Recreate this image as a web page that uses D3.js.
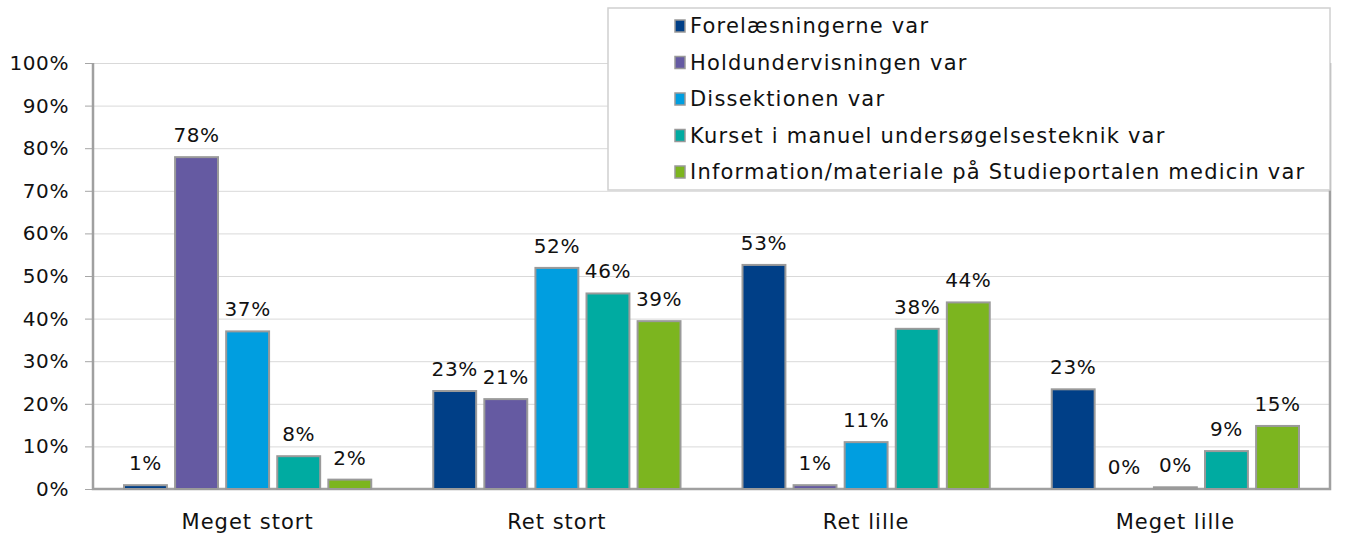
<!DOCTYPE html>
<html>
<head>
    <script src="https://d3js.org/d3.v7.min.js"></script>
    <style>
        body { margin: 0; background: #fff; }
        text { font-family: "Century Gothic", "DejaVu Sans", sans-serif; fill: #111; letter-spacing: 0.6px; }
        .grid line { stroke: #d9d9d9; stroke-width: 1; }
        .grid path { display: none; }
    </style>
</head>
<body>
    <svg width="1365" height="535"></svg>
    <script>

        // Chart data
        const categories = ["Meget stort", "Ret stort", "Ret lille", "Meget lille"];
        const seriesNames = [
            "Forelæsningerne var",
            "Holdundervisningen var",
            "Dissektionen var",
            "Kurset i manuel undersøgelsesteknik var",
            "Information/materiale på Studieportalen medicin var"
        ];
        const forelaesninger = [0.9, 23.0, 52.6, 23.4];
        const holdundervisning = [77.9, 21.1, 0.9, 0.0];
        const dissektion = [37.0, 51.9, 11.0, 0.4];
        const kursus = [7.7, 45.9, 37.6, 8.9];
        const information = [2.2, 39.4, 43.8, 14.8];
        const yTicks = [0, 10, 20, 30, 40, 50, 60, 70, 80, 90, 100];

        const seriesValues = [forelaesninger, holdundervisning, dissektion, kursus, information];
        const colors = ["#003f87", "#655aa2", "#009ee0", "#00aba1", "#7cb51f"];

        const svg = d3.select("svg"),
            margin = { top: 63, right: 35, bottom: 46, left: 93 },
            width = +svg.attr("width") - margin.left - margin.right,
            height = +svg.attr("height") - margin.top - margin.bottom,
            g = svg.append("g").attr("transform", "translate(" + margin.left + "," + margin.top + ")");

        const x0 = d3.scaleBand().domain(categories).range([0, width]);
        const x1 = d3.scaleBand().domain(d3.range(seriesNames.length))
            .range([31, x0.bandwidth() - 31]).paddingInner(0.16);
        const y = d3.scaleLinear().domain([0, 100]).range([height, 0]);

        // grid lines
        g.append("g")
            .attr("class", "grid")
            .call(d3.axisLeft(y).tickValues(yTicks).tickSize(-width).tickFormat(""));

        // y axis
        const yAxis = g.append("g")
            .call(d3.axisLeft(y).tickValues(yTicks).tickSize(8).tickPadding(16).tickFormat(d => d + "%"));
        yAxis.select(".domain").remove();
        yAxis.selectAll("line").attr("stroke", "#a6a6a6");
        yAxis.selectAll("text")
            .style("font-size", "20px")
            .style("font-family", "\"Century Gothic\", \"DejaVu Sans\", sans-serif");

        // plot frame
        g.append("path")
            .attr("d", "M0,0V" + height + "H" + width + "V0")
            .attr("fill", "none")
            .attr("stroke", "#a0a0a0")
            .attr("stroke-width", 2.5);

        // bars
        const groups = g.selectAll(".cat")
            .data(categories)
            .join("g")
            .attr("transform", d => "translate(" + x0(d) + ",0)");

        groups.each(function(cat, ci) {
            const grp = d3.select(this);
            seriesValues.forEach(function(vals, si) {
                const v = vals[ci];
                if (v > 0) {
                    grp.append("rect")
                        .attr("x", x1(si))
                        .attr("y", y(v))
                        .attr("width", x1.bandwidth())
                        .attr("height", height - y(v))
                        .attr("fill", colors[si])
                        .attr("stroke", "#9a9a9a")
                        .attr("stroke-width", 2);
                }
                grp.append("text")
                    .attr("x", x1(si) + x1.bandwidth() / 2)
                    .attr("y", y(v) - 15)
                    .attr("text-anchor", "middle")
                    .style("font-size", "20px")
                    .text(Math.round(v) + "%");
            });
        });

        // category labels
        g.selectAll(".catlabel")
            .data(categories)
            .join("text")
            .attr("x", d => x0(d) + x0.bandwidth() / 2)
            .attr("y", height + 40)
            .attr("text-anchor", "middle")
            .style("font-size", "21px")
            .style("letter-spacing", "1px")
            .text(d => d);

        // legend
        const legend = svg.append("g").attr("transform", "translate(608,8)");
        legend.append("rect")
            .attr("width", 722)
            .attr("height", 182)
            .attr("fill", "#fff")
            .attr("stroke", "#d0d0d0")
            .attr("stroke-width", 1.5);

        seriesNames.forEach(function(name, i) {
            const row = legend.append("g").attr("transform", "translate(0," + (17 + i * 36.5) + ")");
            row.append("rect")
                .attr("x", 67)
                .attr("y", -5)
                .attr("width", 10)
                .attr("height", 12)
                .attr("fill", colors[i])
                .attr("stroke", "#999")
                .attr("stroke-width", 1.5);
            row.append("text")
                .attr("x", 82)
                .attr("y", 1)
                .attr("dy", "0.35em")
                .style("font-size", "21px")
                .style("letter-spacing", "1.2px")
                .text(name);
        });

    </script>
</body>
</html>
